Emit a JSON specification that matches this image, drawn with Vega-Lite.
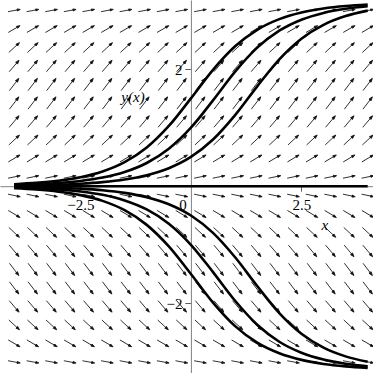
{
"$schema":"https://vega.github.io/schema/vega-lite/v6.json",
"width":373,"height":373,"autosize":{"type":"none"},"padding":0,"background":"white",
"config":{"view":{"stroke":null},"font":"Liberation Serif"},
"datasets":{
"field":[
{"x":-4,"y":3,"s":0.141},{"x":-3.579,"y":3,"s":0.141},{"x":-3.158,"y":3,"s":0.141},{"x":-2.737,"y":3,"s":0.141},{"x":-2.316,"y":3,"s":0.141},{"x":-1.895,"y":3,"s":0.141},{"x":-1.474,"y":3,"s":0.141},{"x":-1.053,"y":3,"s":0.141},{"x":-0.632,"y":3,"s":0.141},{"x":-0.211,"y":3,"s":0.141},{"x":0.211,"y":3,"s":0.141},{"x":0.632,"y":3,"s":0.141},{"x":1.053,"y":3,"s":0.141},{"x":1.474,"y":3,"s":0.141},{"x":1.895,"y":3,"s":0.141},{"x":2.316,"y":3,"s":0.141},{"x":2.737,"y":3,"s":0.141},{"x":3.158,"y":3,"s":0.141},{"x":3.579,"y":3,"s":0.141},{"x":4,"y":3,"s":0.141},
{"x":-4,"y":2.684,"s":0.442},{"x":-3.579,"y":2.684,"s":0.442},{"x":-3.158,"y":2.684,"s":0.442},{"x":-2.737,"y":2.684,"s":0.442},{"x":-2.316,"y":2.684,"s":0.442},{"x":-1.895,"y":2.684,"s":0.442},{"x":-1.474,"y":2.684,"s":0.442},{"x":-1.053,"y":2.684,"s":0.442},{"x":-0.632,"y":2.684,"s":0.442},{"x":-0.211,"y":2.684,"s":0.442},{"x":0.211,"y":2.684,"s":0.442},{"x":0.632,"y":2.684,"s":0.442},{"x":1.053,"y":2.684,"s":0.442},{"x":1.474,"y":2.684,"s":0.442},{"x":1.895,"y":2.684,"s":0.442},{"x":2.316,"y":2.684,"s":0.442},{"x":2.737,"y":2.684,"s":0.442},{"x":3.158,"y":2.684,"s":0.442},{"x":3.579,"y":2.684,"s":0.442},{"x":4,"y":2.684,"s":0.442},
{"x":-4,"y":2.368,"s":0.698},{"x":-3.579,"y":2.368,"s":0.698},{"x":-3.158,"y":2.368,"s":0.698},{"x":-2.737,"y":2.368,"s":0.698},{"x":-2.316,"y":2.368,"s":0.698},{"x":-1.895,"y":2.368,"s":0.698},{"x":-1.474,"y":2.368,"s":0.698},{"x":-1.053,"y":2.368,"s":0.698},{"x":-0.632,"y":2.368,"s":0.698},{"x":-0.211,"y":2.368,"s":0.698},{"x":0.211,"y":2.368,"s":0.698},{"x":0.632,"y":2.368,"s":0.698},{"x":1.053,"y":2.368,"s":0.698},{"x":1.474,"y":2.368,"s":0.698},{"x":1.895,"y":2.368,"s":0.698},{"x":2.316,"y":2.368,"s":0.698},{"x":2.737,"y":2.368,"s":0.698},{"x":3.158,"y":2.368,"s":0.698},{"x":3.579,"y":2.368,"s":0.698},{"x":4,"y":2.368,"s":0.698},
{"x":-4,"y":2.053,"s":0.886},{"x":-3.579,"y":2.053,"s":0.886},{"x":-3.158,"y":2.053,"s":0.886},{"x":-2.737,"y":2.053,"s":0.886},{"x":-2.316,"y":2.053,"s":0.886},{"x":-1.895,"y":2.053,"s":0.886},{"x":-1.474,"y":2.053,"s":0.886},{"x":-1.053,"y":2.053,"s":0.886},{"x":-0.632,"y":2.053,"s":0.886},{"x":-0.211,"y":2.053,"s":0.886},{"x":0.211,"y":2.053,"s":0.886},{"x":0.632,"y":2.053,"s":0.886},{"x":1.053,"y":2.053,"s":0.886},{"x":1.474,"y":2.053,"s":0.886},{"x":1.895,"y":2.053,"s":0.886},{"x":2.316,"y":2.053,"s":0.886},{"x":2.737,"y":2.053,"s":0.886},{"x":3.158,"y":2.053,"s":0.886},{"x":3.579,"y":2.053,"s":0.886},{"x":4,"y":2.053,"s":0.886},
{"x":-4,"y":1.737,"s":0.986},{"x":-3.579,"y":1.737,"s":0.986},{"x":-3.158,"y":1.737,"s":0.986},{"x":-2.737,"y":1.737,"s":0.986},{"x":-2.316,"y":1.737,"s":0.986},{"x":-1.895,"y":1.737,"s":0.986},{"x":-1.474,"y":1.737,"s":0.986},{"x":-1.053,"y":1.737,"s":0.986},{"x":-0.632,"y":1.737,"s":0.986},{"x":-0.211,"y":1.737,"s":0.986},{"x":0.211,"y":1.737,"s":0.986},{"x":0.632,"y":1.737,"s":0.986},{"x":1.053,"y":1.737,"s":0.986},{"x":1.474,"y":1.737,"s":0.986},{"x":1.895,"y":1.737,"s":0.986},{"x":2.316,"y":1.737,"s":0.986},{"x":2.737,"y":1.737,"s":0.986},{"x":3.158,"y":1.737,"s":0.986},{"x":3.579,"y":1.737,"s":0.986},{"x":4,"y":1.737,"s":0.986},
{"x":-4,"y":1.421,"s":0.989},{"x":-3.579,"y":1.421,"s":0.989},{"x":-3.158,"y":1.421,"s":0.989},{"x":-2.737,"y":1.421,"s":0.989},{"x":-2.316,"y":1.421,"s":0.989},{"x":-1.895,"y":1.421,"s":0.989},{"x":-1.474,"y":1.421,"s":0.989},{"x":-1.053,"y":1.421,"s":0.989},{"x":-0.632,"y":1.421,"s":0.989},{"x":-0.211,"y":1.421,"s":0.989},{"x":0.211,"y":1.421,"s":0.989},{"x":0.632,"y":1.421,"s":0.989},{"x":1.053,"y":1.421,"s":0.989},{"x":1.474,"y":1.421,"s":0.989},{"x":1.895,"y":1.421,"s":0.989},{"x":2.316,"y":1.421,"s":0.989},{"x":2.737,"y":1.421,"s":0.989},{"x":3.158,"y":1.421,"s":0.989},{"x":3.579,"y":1.421,"s":0.989},{"x":4,"y":1.421,"s":0.989},
{"x":-4,"y":1.105,"s":0.894},{"x":-3.579,"y":1.105,"s":0.894},{"x":-3.158,"y":1.105,"s":0.894},{"x":-2.737,"y":1.105,"s":0.894},{"x":-2.316,"y":1.105,"s":0.894},{"x":-1.895,"y":1.105,"s":0.894},{"x":-1.474,"y":1.105,"s":0.894},{"x":-1.053,"y":1.105,"s":0.894},{"x":-0.632,"y":1.105,"s":0.894},{"x":-0.211,"y":1.105,"s":0.894},{"x":0.211,"y":1.105,"s":0.894},{"x":0.632,"y":1.105,"s":0.894},{"x":1.053,"y":1.105,"s":0.894},{"x":1.474,"y":1.105,"s":0.894},{"x":1.895,"y":1.105,"s":0.894},{"x":2.316,"y":1.105,"s":0.894},{"x":2.737,"y":1.105,"s":0.894},{"x":3.158,"y":1.105,"s":0.894},{"x":3.579,"y":1.105,"s":0.894},{"x":4,"y":1.105,"s":0.894},
{"x":-4,"y":0.789,"s":0.710},{"x":-3.579,"y":0.789,"s":0.710},{"x":-3.158,"y":0.789,"s":0.710},{"x":-2.737,"y":0.789,"s":0.710},{"x":-2.316,"y":0.789,"s":0.710},{"x":-1.895,"y":0.789,"s":0.710},{"x":-1.474,"y":0.789,"s":0.710},{"x":-1.053,"y":0.789,"s":0.710},{"x":-0.632,"y":0.789,"s":0.710},{"x":-0.211,"y":0.789,"s":0.710},{"x":0.211,"y":0.789,"s":0.710},{"x":0.632,"y":0.789,"s":0.710},{"x":1.053,"y":0.789,"s":0.710},{"x":1.474,"y":0.789,"s":0.710},{"x":1.895,"y":0.789,"s":0.710},{"x":2.316,"y":0.789,"s":0.710},{"x":2.737,"y":0.789,"s":0.710},{"x":3.158,"y":0.789,"s":0.710},{"x":3.579,"y":0.789,"s":0.710},{"x":4,"y":0.789,"s":0.710},
{"x":-4,"y":0.474,"s":0.456},{"x":-3.579,"y":0.474,"s":0.456},{"x":-3.158,"y":0.474,"s":0.456},{"x":-2.737,"y":0.474,"s":0.456},{"x":-2.316,"y":0.474,"s":0.456},{"x":-1.895,"y":0.474,"s":0.456},{"x":-1.474,"y":0.474,"s":0.456},{"x":-1.053,"y":0.474,"s":0.456},{"x":-0.632,"y":0.474,"s":0.456},{"x":-0.211,"y":0.474,"s":0.456},{"x":0.211,"y":0.474,"s":0.456},{"x":0.632,"y":0.474,"s":0.456},{"x":1.053,"y":0.474,"s":0.456},{"x":1.474,"y":0.474,"s":0.456},{"x":1.895,"y":0.474,"s":0.456},{"x":2.316,"y":0.474,"s":0.456},{"x":2.737,"y":0.474,"s":0.456},{"x":3.158,"y":0.474,"s":0.456},{"x":3.579,"y":0.474,"s":0.456},{"x":4,"y":0.474,"s":0.456},
{"x":-4,"y":0.158,"s":0.157},{"x":-3.579,"y":0.158,"s":0.157},{"x":-3.158,"y":0.158,"s":0.157},{"x":-2.737,"y":0.158,"s":0.157},{"x":-2.316,"y":0.158,"s":0.157},{"x":-1.895,"y":0.158,"s":0.157},{"x":-1.474,"y":0.158,"s":0.157},{"x":-1.053,"y":0.158,"s":0.157},{"x":-0.632,"y":0.158,"s":0.157},{"x":-0.211,"y":0.158,"s":0.157},{"x":0.211,"y":0.158,"s":0.157},{"x":0.632,"y":0.158,"s":0.157},{"x":1.053,"y":0.158,"s":0.157},{"x":1.474,"y":0.158,"s":0.157},{"x":1.895,"y":0.158,"s":0.157},{"x":2.316,"y":0.158,"s":0.157},{"x":2.737,"y":0.158,"s":0.157},{"x":3.158,"y":0.158,"s":0.157},{"x":3.579,"y":0.158,"s":0.157},{"x":4,"y":0.158,"s":0.157},
{"x":-4,"y":-0.158,"s":-0.157},{"x":-3.579,"y":-0.158,"s":-0.157},{"x":-3.158,"y":-0.158,"s":-0.157},{"x":-2.737,"y":-0.158,"s":-0.157},{"x":-2.316,"y":-0.158,"s":-0.157},{"x":-1.895,"y":-0.158,"s":-0.157},{"x":-1.474,"y":-0.158,"s":-0.157},{"x":-1.053,"y":-0.158,"s":-0.157},{"x":-0.632,"y":-0.158,"s":-0.157},{"x":-0.211,"y":-0.158,"s":-0.157},{"x":0.211,"y":-0.158,"s":-0.157},{"x":0.632,"y":-0.158,"s":-0.157},{"x":1.053,"y":-0.158,"s":-0.157},{"x":1.474,"y":-0.158,"s":-0.157},{"x":1.895,"y":-0.158,"s":-0.157},{"x":2.316,"y":-0.158,"s":-0.157},{"x":2.737,"y":-0.158,"s":-0.157},{"x":3.158,"y":-0.158,"s":-0.157},{"x":3.579,"y":-0.158,"s":-0.157},{"x":4,"y":-0.158,"s":-0.157},
{"x":-4,"y":-0.474,"s":-0.456},{"x":-3.579,"y":-0.474,"s":-0.456},{"x":-3.158,"y":-0.474,"s":-0.456},{"x":-2.737,"y":-0.474,"s":-0.456},{"x":-2.316,"y":-0.474,"s":-0.456},{"x":-1.895,"y":-0.474,"s":-0.456},{"x":-1.474,"y":-0.474,"s":-0.456},{"x":-1.053,"y":-0.474,"s":-0.456},{"x":-0.632,"y":-0.474,"s":-0.456},{"x":-0.211,"y":-0.474,"s":-0.456},{"x":0.211,"y":-0.474,"s":-0.456},{"x":0.632,"y":-0.474,"s":-0.456},{"x":1.053,"y":-0.474,"s":-0.456},{"x":1.474,"y":-0.474,"s":-0.456},{"x":1.895,"y":-0.474,"s":-0.456},{"x":2.316,"y":-0.474,"s":-0.456},{"x":2.737,"y":-0.474,"s":-0.456},{"x":3.158,"y":-0.474,"s":-0.456},{"x":3.579,"y":-0.474,"s":-0.456},{"x":4,"y":-0.474,"s":-0.456},
{"x":-4,"y":-0.789,"s":-0.710},{"x":-3.579,"y":-0.789,"s":-0.710},{"x":-3.158,"y":-0.789,"s":-0.710},{"x":-2.737,"y":-0.789,"s":-0.710},{"x":-2.316,"y":-0.789,"s":-0.710},{"x":-1.895,"y":-0.789,"s":-0.710},{"x":-1.474,"y":-0.789,"s":-0.710},{"x":-1.053,"y":-0.789,"s":-0.710},{"x":-0.632,"y":-0.789,"s":-0.710},{"x":-0.211,"y":-0.789,"s":-0.710},{"x":0.211,"y":-0.789,"s":-0.710},{"x":0.632,"y":-0.789,"s":-0.710},{"x":1.053,"y":-0.789,"s":-0.710},{"x":1.474,"y":-0.789,"s":-0.710},{"x":1.895,"y":-0.789,"s":-0.710},{"x":2.316,"y":-0.789,"s":-0.710},{"x":2.737,"y":-0.789,"s":-0.710},{"x":3.158,"y":-0.789,"s":-0.710},{"x":3.579,"y":-0.789,"s":-0.710},{"x":4,"y":-0.789,"s":-0.710},
{"x":-4,"y":-1.105,"s":-0.894},{"x":-3.579,"y":-1.105,"s":-0.894},{"x":-3.158,"y":-1.105,"s":-0.894},{"x":-2.737,"y":-1.105,"s":-0.894},{"x":-2.316,"y":-1.105,"s":-0.894},{"x":-1.895,"y":-1.105,"s":-0.894},{"x":-1.474,"y":-1.105,"s":-0.894},{"x":-1.053,"y":-1.105,"s":-0.894},{"x":-0.632,"y":-1.105,"s":-0.894},{"x":-0.211,"y":-1.105,"s":-0.894},{"x":0.211,"y":-1.105,"s":-0.894},{"x":0.632,"y":-1.105,"s":-0.894},{"x":1.053,"y":-1.105,"s":-0.894},{"x":1.474,"y":-1.105,"s":-0.894},{"x":1.895,"y":-1.105,"s":-0.894},{"x":2.316,"y":-1.105,"s":-0.894},{"x":2.737,"y":-1.105,"s":-0.894},{"x":3.158,"y":-1.105,"s":-0.894},{"x":3.579,"y":-1.105,"s":-0.894},{"x":4,"y":-1.105,"s":-0.894},
{"x":-4,"y":-1.421,"s":-0.989},{"x":-3.579,"y":-1.421,"s":-0.989},{"x":-3.158,"y":-1.421,"s":-0.989},{"x":-2.737,"y":-1.421,"s":-0.989},{"x":-2.316,"y":-1.421,"s":-0.989},{"x":-1.895,"y":-1.421,"s":-0.989},{"x":-1.474,"y":-1.421,"s":-0.989},{"x":-1.053,"y":-1.421,"s":-0.989},{"x":-0.632,"y":-1.421,"s":-0.989},{"x":-0.211,"y":-1.421,"s":-0.989},{"x":0.211,"y":-1.421,"s":-0.989},{"x":0.632,"y":-1.421,"s":-0.989},{"x":1.053,"y":-1.421,"s":-0.989},{"x":1.474,"y":-1.421,"s":-0.989},{"x":1.895,"y":-1.421,"s":-0.989},{"x":2.316,"y":-1.421,"s":-0.989},{"x":2.737,"y":-1.421,"s":-0.989},{"x":3.158,"y":-1.421,"s":-0.989},{"x":3.579,"y":-1.421,"s":-0.989},{"x":4,"y":-1.421,"s":-0.989},
{"x":-4,"y":-1.737,"s":-0.986},{"x":-3.579,"y":-1.737,"s":-0.986},{"x":-3.158,"y":-1.737,"s":-0.986},{"x":-2.737,"y":-1.737,"s":-0.986},{"x":-2.316,"y":-1.737,"s":-0.986},{"x":-1.895,"y":-1.737,"s":-0.986},{"x":-1.474,"y":-1.737,"s":-0.986},{"x":-1.053,"y":-1.737,"s":-0.986},{"x":-0.632,"y":-1.737,"s":-0.986},{"x":-0.211,"y":-1.737,"s":-0.986},{"x":0.211,"y":-1.737,"s":-0.986},{"x":0.632,"y":-1.737,"s":-0.986},{"x":1.053,"y":-1.737,"s":-0.986},{"x":1.474,"y":-1.737,"s":-0.986},{"x":1.895,"y":-1.737,"s":-0.986},{"x":2.316,"y":-1.737,"s":-0.986},{"x":2.737,"y":-1.737,"s":-0.986},{"x":3.158,"y":-1.737,"s":-0.986},{"x":3.579,"y":-1.737,"s":-0.986},{"x":4,"y":-1.737,"s":-0.986},
{"x":-4,"y":-2.053,"s":-0.886},{"x":-3.579,"y":-2.053,"s":-0.886},{"x":-3.158,"y":-2.053,"s":-0.886},{"x":-2.737,"y":-2.053,"s":-0.886},{"x":-2.316,"y":-2.053,"s":-0.886},{"x":-1.895,"y":-2.053,"s":-0.886},{"x":-1.474,"y":-2.053,"s":-0.886},{"x":-1.053,"y":-2.053,"s":-0.886},{"x":-0.632,"y":-2.053,"s":-0.886},{"x":-0.211,"y":-2.053,"s":-0.886},{"x":0.211,"y":-2.053,"s":-0.886},{"x":0.632,"y":-2.053,"s":-0.886},{"x":1.053,"y":-2.053,"s":-0.886},{"x":1.474,"y":-2.053,"s":-0.886},{"x":1.895,"y":-2.053,"s":-0.886},{"x":2.316,"y":-2.053,"s":-0.886},{"x":2.737,"y":-2.053,"s":-0.886},{"x":3.158,"y":-2.053,"s":-0.886},{"x":3.579,"y":-2.053,"s":-0.886},{"x":4,"y":-2.053,"s":-0.886},
{"x":-4,"y":-2.368,"s":-0.698},{"x":-3.579,"y":-2.368,"s":-0.698},{"x":-3.158,"y":-2.368,"s":-0.698},{"x":-2.737,"y":-2.368,"s":-0.698},{"x":-2.316,"y":-2.368,"s":-0.698},{"x":-1.895,"y":-2.368,"s":-0.698},{"x":-1.474,"y":-2.368,"s":-0.698},{"x":-1.053,"y":-2.368,"s":-0.698},{"x":-0.632,"y":-2.368,"s":-0.698},{"x":-0.211,"y":-2.368,"s":-0.698},{"x":0.211,"y":-2.368,"s":-0.698},{"x":0.632,"y":-2.368,"s":-0.698},{"x":1.053,"y":-2.368,"s":-0.698},{"x":1.474,"y":-2.368,"s":-0.698},{"x":1.895,"y":-2.368,"s":-0.698},{"x":2.316,"y":-2.368,"s":-0.698},{"x":2.737,"y":-2.368,"s":-0.698},{"x":3.158,"y":-2.368,"s":-0.698},{"x":3.579,"y":-2.368,"s":-0.698},{"x":4,"y":-2.368,"s":-0.698},
{"x":-4,"y":-2.684,"s":-0.442},{"x":-3.579,"y":-2.684,"s":-0.442},{"x":-3.158,"y":-2.684,"s":-0.442},{"x":-2.737,"y":-2.684,"s":-0.442},{"x":-2.316,"y":-2.684,"s":-0.442},{"x":-1.895,"y":-2.684,"s":-0.442},{"x":-1.474,"y":-2.684,"s":-0.442},{"x":-1.053,"y":-2.684,"s":-0.442},{"x":-0.632,"y":-2.684,"s":-0.442},{"x":-0.211,"y":-2.684,"s":-0.442},{"x":0.211,"y":-2.684,"s":-0.442},{"x":0.632,"y":-2.684,"s":-0.442},{"x":1.053,"y":-2.684,"s":-0.442},{"x":1.474,"y":-2.684,"s":-0.442},{"x":1.895,"y":-2.684,"s":-0.442},{"x":2.316,"y":-2.684,"s":-0.442},{"x":2.737,"y":-2.684,"s":-0.442},{"x":3.158,"y":-2.684,"s":-0.442},{"x":3.579,"y":-2.684,"s":-0.442},{"x":4,"y":-2.684,"s":-0.442},
{"x":-4,"y":-3,"s":-0.141},{"x":-3.579,"y":-3,"s":-0.141},{"x":-3.158,"y":-3,"s":-0.141},{"x":-2.737,"y":-3,"s":-0.141},{"x":-2.316,"y":-3,"s":-0.141},{"x":-1.895,"y":-3,"s":-0.141},{"x":-1.474,"y":-3,"s":-0.141},{"x":-1.053,"y":-3,"s":-0.141},{"x":-0.632,"y":-3,"s":-0.141},{"x":-0.211,"y":-3,"s":-0.141},{"x":0.211,"y":-3,"s":-0.141},{"x":0.632,"y":-3,"s":-0.141},{"x":1.053,"y":-3,"s":-0.141},{"x":1.474,"y":-3,"s":-0.141},{"x":1.895,"y":-3,"s":-0.141},{"x":2.316,"y":-3,"s":-0.141},{"x":2.737,"y":-3,"s":-0.141},{"x":3.158,"y":-3,"s":-0.141},{"x":3.579,"y":-3,"s":-0.141},{"x":4,"y":-3,"s":-0.141}
],
"curves":[
{"c":"z","x":-4,"y":0},{"c":"z","x":4,"y":0},
{"c":"a","x":-4,"y":0.0341},{"c":"a","x":-3.5,"y":0.0562},{"c":"a","x":-3,"y":0.0927},{"c":"a","x":-2.5,"y":0.1526},{"c":"a","x":-2,"y":0.2508},{"c":"a","x":-1.5,"y":0.4099},{"c":"a","x":-1,"y":0.6604},{"c":"a","x":-0.5,"y":1.0288},{"c":"a","x":0,"y":1.5},{"c":"a","x":0.5,"y":1.9873},{"c":"a","x":1,"y":2.3894},{"c":"a","x":1.5,"y":2.6714},{"c":"a","x":2,"y":2.8531},{"c":"a","x":2.5,"y":2.9658},{"c":"a","x":3,"y":3.0348},{"c":"a","x":3.5,"y":3.0768},{"c":"a","x":4,"y":3.1023},
{"c":"b","x":-4,"y":0.0200},{"c":"b","x":-3.5,"y":0.0330},{"c":"b","x":-3,"y":0.0544},{"c":"b","x":-2.5,"y":0.0896},{"c":"b","x":-2,"y":0.1476},{"c":"b","x":-1.5,"y":0.2426},{"c":"b","x":-1,"y":0.3967},{"c":"b","x":-0.5,"y":0.6399},{"c":"b","x":0,"y":1.0},{"c":"b","x":0.5,"y":1.4664},{"c":"b","x":1,"y":1.9563},{"c":"b","x":1.5,"y":2.3661},{"c":"b","x":2,"y":2.6559},{"c":"b","x":2.5,"y":2.8433},{"c":"b","x":3,"y":2.9598},{"c":"b","x":3.5,"y":3.0312},{"c":"b","x":4,"y":3.0746},
{"c":"c","x":-4,"y":0.0094},{"c":"c","x":-3.5,"y":0.0154},{"c":"c","x":-3,"y":0.0254},{"c":"c","x":-2.5,"y":0.0419},{"c":"c","x":-2,"y":0.0691},{"c":"c","x":-1.5,"y":0.1138},{"c":"c","x":-1,"y":0.1873},{"c":"c","x":-0.5,"y":0.3073},{"c":"c","x":0,"y":0.5},{"c":"c","x":0.5,"y":0.7969},{"c":"c","x":1,"y":1.2135},{"c":"c","x":1.5,"y":1.7052},{"c":"c","x":2,"y":2.1668},{"c":"c","x":2.5,"y":2.5195},{"c":"c","x":3,"y":2.7565},{"c":"c","x":3.5,"y":2.9062},{"c":"c","x":4,"y":2.9984},
{"c":"d","x":-4,"y":-0.0341},{"c":"d","x":-3.5,"y":-0.0562},{"c":"d","x":-3,"y":-0.0927},{"c":"d","x":-2.5,"y":-0.1526},{"c":"d","x":-2,"y":-0.2508},{"c":"d","x":-1.5,"y":-0.4099},{"c":"d","x":-1,"y":-0.6604},{"c":"d","x":-0.5,"y":-1.0288},{"c":"d","x":0,"y":-1.5},{"c":"d","x":0.5,"y":-1.9873},{"c":"d","x":1,"y":-2.3894},{"c":"d","x":1.5,"y":-2.6714},{"c":"d","x":2,"y":-2.8531},{"c":"d","x":2.5,"y":-2.9658},{"c":"d","x":3,"y":-3.0348},{"c":"d","x":3.5,"y":-3.0768},{"c":"d","x":4,"y":-3.1023},
{"c":"e","x":-4,"y":-0.0200},{"c":"e","x":-3.5,"y":-0.0330},{"c":"e","x":-3,"y":-0.0544},{"c":"e","x":-2.5,"y":-0.0896},{"c":"e","x":-2,"y":-0.1476},{"c":"e","x":-1.5,"y":-0.2426},{"c":"e","x":-1,"y":-0.3967},{"c":"e","x":-0.5,"y":-0.6399},{"c":"e","x":0,"y":-1.0},{"c":"e","x":0.5,"y":-1.4664},{"c":"e","x":1,"y":-1.9563},{"c":"e","x":1.5,"y":-2.3661},{"c":"e","x":2,"y":-2.6559},{"c":"e","x":2.5,"y":-2.8433},{"c":"e","x":3,"y":-2.9598},{"c":"e","x":3.5,"y":-3.0312},{"c":"e","x":4,"y":-3.0746},
{"c":"f","x":-4,"y":-0.0094},{"c":"f","x":-3.5,"y":-0.0154},{"c":"f","x":-3,"y":-0.0254},{"c":"f","x":-2.5,"y":-0.0419},{"c":"f","x":-2,"y":-0.0691},{"c":"f","x":-1.5,"y":-0.1138},{"c":"f","x":-1,"y":-0.1873},{"c":"f","x":-0.5,"y":-0.3073},{"c":"f","x":0,"y":-0.5},{"c":"f","x":0.5,"y":-0.7969},{"c":"f","x":1,"y":-1.2135},{"c":"f","x":1.5,"y":-1.7052},{"c":"f","x":2,"y":-2.1668},{"c":"f","x":2.5,"y":-2.5195},{"c":"f","x":3,"y":-2.7565},{"c":"f","x":3.5,"y":-2.9062},{"c":"f","x":4,"y":-2.9984}
],
"zero":[{"x":-0.18,"y":-0.32,"t":"0"}],
"titles":[{"x":3.03,"y":-0.66,"t":"x"},{"x":-1.31,"y":1.52,"t":"y(x)"}]
},
"encoding":{
"x":{"field":"x","type":"quantitative","scale":{"domain":[-4.32,4.12],"nice":false,"zero":false},
"axis":{"values":[-2.5,2.5],"offset":-186.8,"title":null,"grid":false,"domainColor":"#808080","tickColor":"#606060","tickSize":5,"labelFont":"Liberation Serif","labelFontSize":15,"labelColor":"black","labelPadding":6,"labelFlush":false,"labelOverlap":false,"format":".1f"}},
"y":{"field":"y","type":"quantitative","scale":{"domain":[-3.19,3.18],"nice":false,"zero":false},
"axis":{"values":[-2,2],"offset":-190.9,"title":null,"grid":false,"domainColor":"#808080","tickColor":"#606060","tickSize":6,"labelFont":"Liberation Serif","labelFontSize":15,"labelColor":"black","labelPadding":3,"labelFlush":false,"labelOverlap":false,"format":"d"}}
},
"layer":[
{"data":{"name":"field"},
"mark":{"type":"point","shape":"M-1,0L0.6,0M0.5,-0.17L1,0L0.5,0.17Z","filled":true,"fill":"#111111","stroke":"#111111","strokeWidth":0.8,"opacity":1},
"encoding":{
"angle":{"field":"s","type":"quantitative","scale":{"domain":[-1,-0.8,-0.6,-0.4,-0.2,0,0.2,0.4,0.6,0.8,1],"range":[52.96,46.68,38.49,27.93,14.85,0,-14.85,-27.93,-38.49,-46.68,-52.96]},"legend":null},
"size":{"field":"s","type":"quantitative","scale":{"domain":[-1,0,1],"range":[240,140,240]},"legend":null}}},
{"data":{"name":"curves"},
"mark":{"type":"line","color":"black","strokeWidth":2.6,"interpolate":"monotone"},
"encoding":{"detail":{"field":"c"}}},
{"data":{"name":"zero"},
"mark":{"type":"text","font":"Liberation Serif","fontSize":15,"color":"black","align":"center","baseline":"middle"},
"encoding":{"text":{"field":"t"}}},
{"data":{"name":"titles"},
"mark":{"type":"text","font":"Liberation Serif","fontSize":15,"fontStyle":"italic","color":"black","align":"center","baseline":"middle"},
"encoding":{"text":{"field":"t"}}}
]
}
